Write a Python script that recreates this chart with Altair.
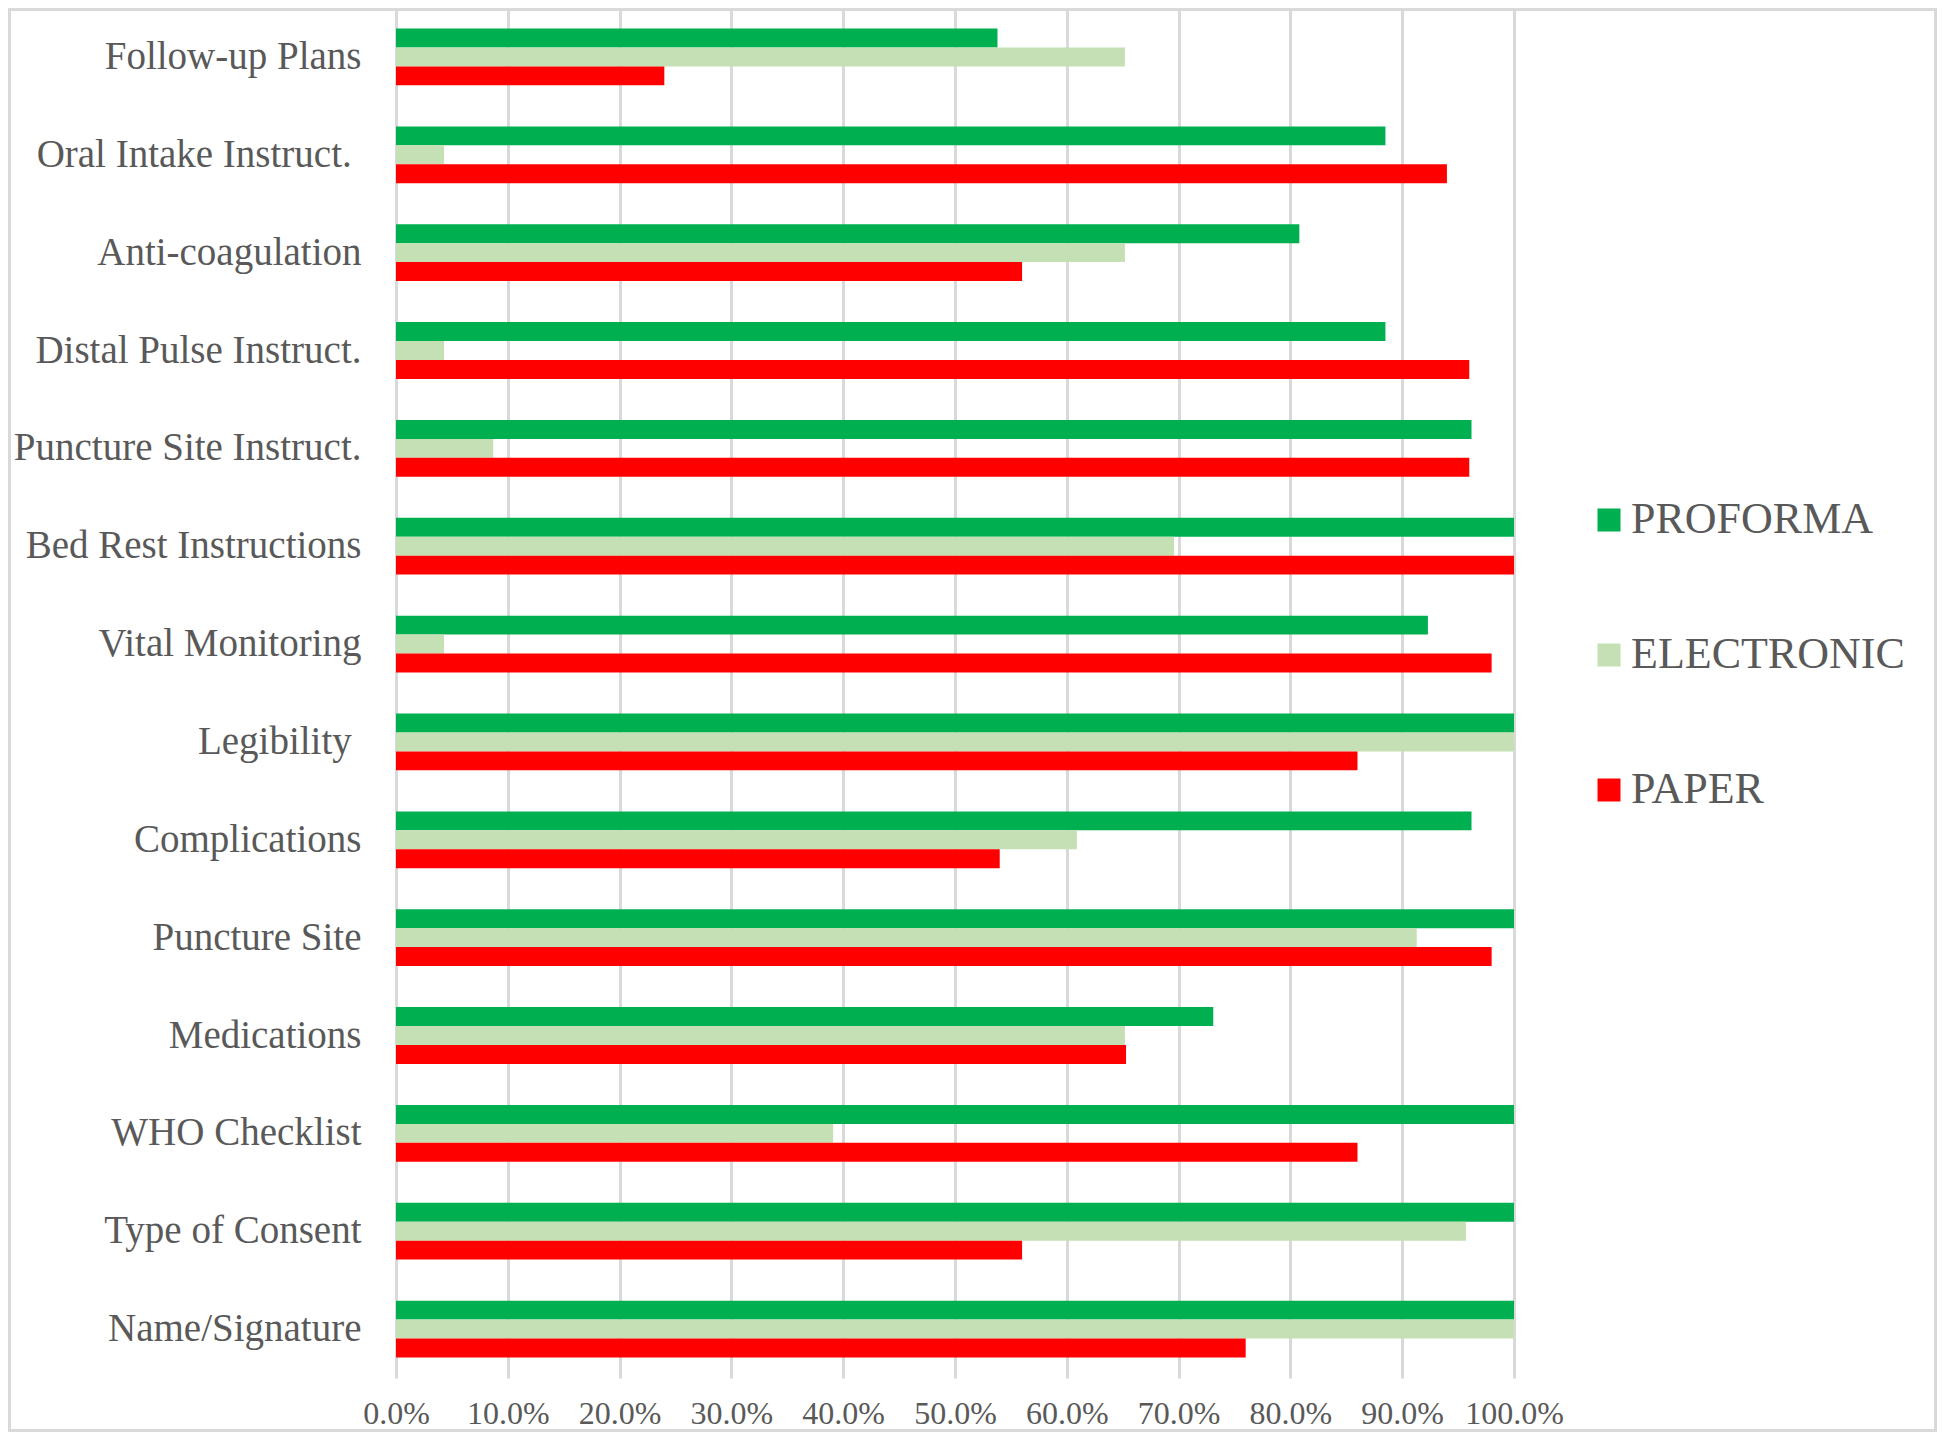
import altair as alt
import pandas as pd

categories = [
    "Follow-up Plans",
    "Oral Intake Instruct.",
    "Anti-coagulation",
    "Distal Pulse Instruct.",
    "Puncture Site Instruct.",
    "Bed Rest Instructions",
    "Vital Monitoring",
    "Legibility",
    "Complications",
    "Puncture Site",
    "Medications",
    "WHO Checklist",
    "Type of Consent",
    "Name/Signature",
]
series = ["PROFORMA", "ELECTRONIC", "PAPER"]
colors = ["#00b050", "#c5e0b4", "#ff0000"]

proforma = [53.8, 88.5, 80.8, 88.5, 96.2, 100.0, 92.3, 100.0, 96.2, 100.0, 73.1, 100.0, 100.0, 100.0]
electronic = [65.2, 4.3, 65.2, 4.3, 8.7, 69.6, 4.3, 100.0, 60.9, 91.3, 65.2, 39.1, 95.7, 100.0]
paper = [24.0, 94.0, 56.0, 96.0, 96.0, 100.0, 98.0, 86.0, 54.0, 98.0, 65.3, 86.0, 56.0, 76.0]
x_ticks = [0, 0.1, 0.2, 0.3, 0.4, 0.5, 0.6, 0.7, 0.8, 0.9, 1.0]

rows = []
for s, vals in zip(series, [proforma, electronic, paper]):
    for c, v in zip(categories, vals):
        rows.append({"category": c, "series": s, "value": v / 100.0})
df = pd.DataFrame(rows)

FONT = "Liberation Serif"
TXT = "#595959"
W, H = 1118, 1370
PL, PT, PR, PB = 388, 0, 423, 54

label_expr = ("(datum.label == 'Legibility' || datum.label == 'Oral Intake Instruct.') "
              "? datum.label + '\u00a0\u200b' : datum.label")

bars = alt.Chart(df).mark_bar().encode(
    x=alt.X("value:Q",
            scale=alt.Scale(domain=[0, 1], nice=False),
            axis=alt.Axis(values=x_ticks, format=".1%", title=None,
                          grid=True, gridColor="#d9d9d9", gridWidth=3,
                          domain=False, ticks=False,
                          labelFont=FONT, labelFontSize=32, labelColor=TXT,
                          labelPadding=20, labelFlush=False)),
    y=alt.Y("category:N", sort=categories,
            scale=alt.Scale(paddingInner=0.42, paddingOuter=0.21),
            axis=alt.Axis(title=None, domain=False, ticks=False, grid=False,
                          labelFont=FONT, labelFontSize=39, labelColor=TXT,
                          labelPadding=35, labelLimit=500, labelExpr=label_expr)),
    yOffset=alt.YOffset("series:N", sort=series, scale=alt.Scale(paddingInner=0, paddingOuter=0)),
    color=alt.Color("series:N", sort=series,
                    scale=alt.Scale(domain=series, range=colors),
                    legend=alt.Legend(title=None, orient="none",
                                      legendX=1191, legendY=490,
                                      symbolType="square", symbolSize=529,
                                      symbolStrokeWidth=0, symbolOpacity=1,
                                      labelFont=FONT, labelFontSize=44,
                                      labelColor=TXT, labelOffset=0,
                                      labelLimit=500,
                                      rowPadding=91, padding=0)),
)

border = alt.Chart(pd.DataFrame({"a": [0]})).mark_rect(
    fillOpacity=0, stroke="#d9d9d9", strokeWidth=3
).encode(
    x=alt.value(-PL + 1.5), x2=alt.value(W + PR - 1.5),
    y=alt.value(-PT + 1.5), y2=alt.value(H + PB - 1.5),
)

chart = alt.layer(bars, border).properties(
    width=W, height=H,
    autosize=alt.AutoSizeParams(type="none"),
    padding={"left": PL, "top": PT, "right": PR, "bottom": PB},
    background="white",
).configure_view(stroke=None)

chart.save("out.html", embed_options={"renderer": "svg", "actions": False})
